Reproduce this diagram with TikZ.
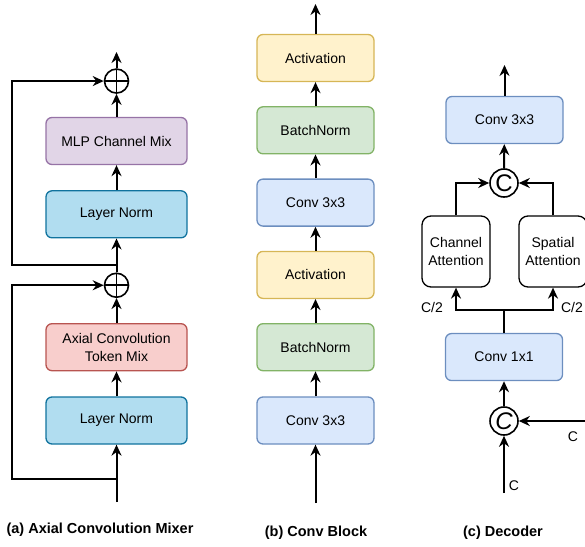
\documentclass[tikz,border=0pt]{standalone}
\usepackage{fontspec}
\setmainfont{Liberation Sans}
\usetikzlibrary{arrows.meta,positioning,calc}
\definecolor{lnfill}{HTML}{B1DDF0}
\definecolor{lndraw}{HTML}{10739E}
\definecolor{mlpfill}{HTML}{E1D5E7}
\definecolor{mlpdraw}{HTML}{9673A6}
\definecolor{axfill}{HTML}{F8CECC}
\definecolor{axdraw}{HTML}{B85450}
\definecolor{actfill}{HTML}{FFF2CC}
\definecolor{actdraw}{HTML}{D6B656}
\definecolor{bnfill}{HTML}{D5E8D4}
\definecolor{bndraw}{HTML}{82B366}
\definecolor{cvfill}{HTML}{DAE8FC}
\definecolor{cvdraw}{HTML}{6C8EBF}
\tikzset{
  block/.style={draw, rounded corners=6pt, line width=1.3pt,
    minimum height=47pt, minimum width=#1, inner sep=0pt,
    align=center, font=\fontsize{14}{18}\selectfont},
  block/.default=117pt,
  lnblock/.style={block=141pt, fill=lnfill, draw=lndraw},
  mlpblock/.style={block=141pt, fill=mlpfill, draw=mlpdraw},
  axblock/.style={block=141pt, fill=axfill, draw=axdraw},
  actblock/.style={block, fill=actfill, draw=actdraw},
  bnblock/.style={block, fill=bnfill, draw=bndraw},
  cvblock/.style={block, fill=cvfill, draw=cvdraw},
  attblock/.style={block=68pt, minimum height=71pt, rounded corners=9pt, fill=white, draw=black},
  addop/.style={circle, draw, line width=1.6pt, minimum size=24pt, inner sep=0pt,
    path picture={\draw[line width=1.6pt] (path picture bounding box.north) -- (path picture bounding box.south)
      (path picture bounding box.west) -- (path picture bounding box.east);}},
  catop/.style={circle, draw, line width=1.6pt, minimum size=28pt, inner sep=0pt,
    font=\fontsize{24}{24}\selectfont},
  wire/.style={line width=2pt},
  flow/.style={wire, -{Stealth[length=11pt,width=10pt]}},
  lbl/.style={font=\fontsize{14}{16}\selectfont},
  caption/.style={font=\fontsize{14.5}{17}\selectfont\bfseries}
}
\begin{document}
\begin{tikzpicture}[x=1pt,y=-1pt]
\useasboundingbox (0,0) rectangle (585,546);

% (a) axial convolution mixer
\node[lnblock] (lnA) at (116.5,420.5) {Layer Norm};
\node[axblock, above=25pt of lnA] (axial) {Axial Convolution\\Token Mix};
\node[addop, above=25pt of axial] (addA) {};
\node[lnblock, above=34pt of addA] (lnB) {Layer Norm};
\node[mlpblock, above=25pt of lnB] (mlp) {MLP Channel Mix};
\node[addop, above=23pt of mlp] (addB) {};
\coordinate (inA) at (116.5,502);
\coordinate (outA) at (116.5,52);
\coordinate (skipA) at (116.5,479);
\coordinate (skipB) at (116.5,265);
\coordinate (loopA) at (12,479);
\coordinate (loopB) at (12,265);
\draw[flow] (inA) -- (lnA);
\draw[flow] (lnA) -- (axial);
\draw[flow] (axial) -- (addA);
\draw[flow] (addA) -- (lnB);
\draw[flow] (lnB) -- (mlp);
\draw[flow] (mlp) -- (addB);
\draw[flow] (addB) -- (outA);
\draw[flow] (skipA) -- (loopA) |- (addA);
\draw[flow] (skipB) -- (loopB) |- (addB);
\node[caption] (capA) at (100,530) {(a) Axial Convolution Mixer};

% (b) conv block
\node[cvblock] (convA) at (315.5,420.5) {Conv 3x3};
\node[bnblock, above=25pt of convA] (bnA) {BatchNorm};
\node[actblock, above=24pt of bnA] (actA) {Activation};
\node[cvblock, above=24pt of actA] (convB) {Conv 3x3};
\node[bnblock, above=24pt of convB] (bnB) {BatchNorm};
\node[actblock, above=24pt of bnB] (actB) {Activation};
\coordinate (inB) at (315.5,503);
\coordinate (outB) at (315.5,4);
\draw[flow] (inB) -- (convA);
\draw[flow] (convA) -- (bnA);
\draw[flow] (bnA) -- (actA);
\draw[flow] (actA) -- (convB);
\draw[flow] (convB) -- (bnB);
\draw[flow] (bnB) -- (actB);
\draw[flow] (actB) -- (outB);
\node[caption] (capB) at (316,533) {(b) Conv Block};

% (c) decoder
\node[catop] (catA) at (504,421) {\textit{C}};
\node[cvblock, above=25pt of catA] (conv1) {Conv 1x1};
\node[attblock] (chan) at (456,251.5) {Channel\\Attention};
\node[attblock] (spat) at (553,251.5) {Spatial\\Attention};
\node[catop] (catB) at (504,183) {C};
\node[cvblock] (conv3) at (504.5,120) {Conv 3x3};
\coordinate (split) at (504,310);
\coordinate (inC) at (504,493);
\coordinate (inR) at (585,421);
\coordinate (outC) at (504.5,65);
\draw[flow] (inC) -- (catA);
\draw[flow] (inR) -- (catA);
\draw[flow] (catA) -- (conv1);
\draw[wire] (conv1) -- (split);
\draw[flow] (split) -| (chan);
\draw[flow] (split) -| (spat);
\draw[flow] (chan) |- (catB);
\draw[flow] (spat) |- (catB);
\draw[flow] (catB) -- (conv3);
\draw[flow] (conv3) -- (outC);
\node[lbl] (cin) at (514,486) {C};
\node[lbl] (cside) at (573,437) {C};
\node[lbl] (hchan) at (432,307) {C/2};
\node[lbl] (hspat) at (572,307) {C/2};
\node[caption] (capC) at (503,533) {(c) Decoder};
\end{tikzpicture}
\end{document}
